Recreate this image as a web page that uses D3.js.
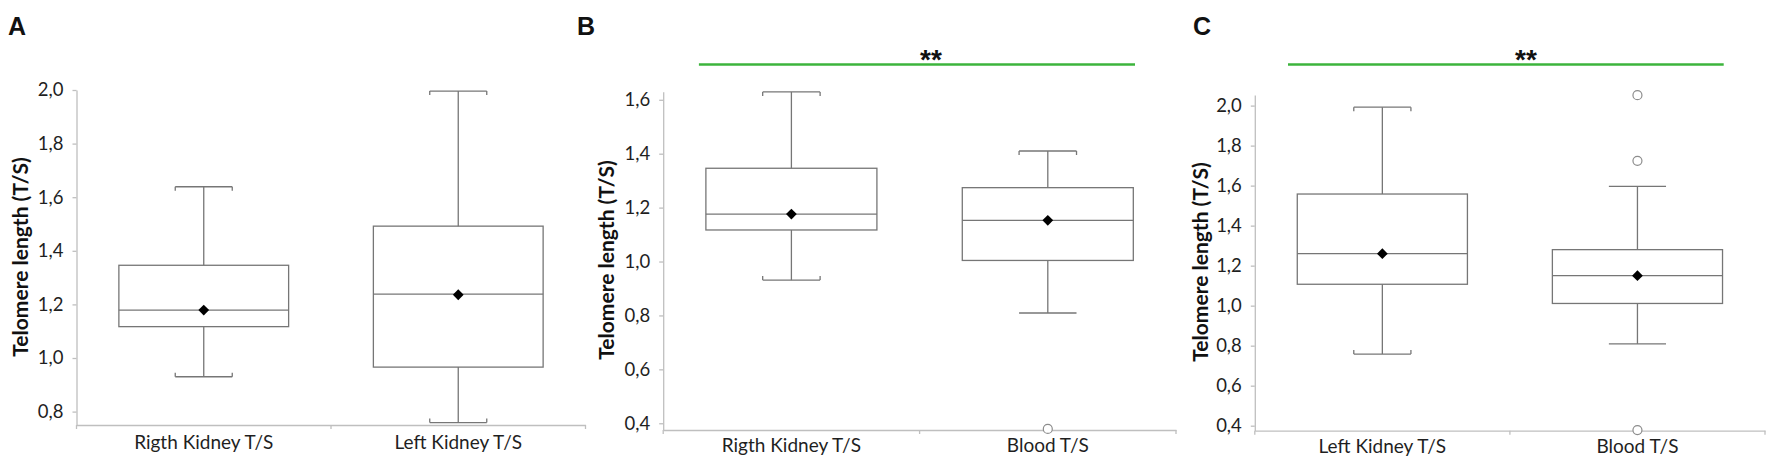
<!DOCTYPE html>
<html>
<head>
<meta charset="utf-8">
<script src="https://cdn.jsdelivr.net/npm/d3@7"></script>
<style>
  html, body { margin: 0; padding: 0; background: #fff; }
  svg { display: block; }
</style>
</head>
<body>
<svg id="chart" width="1772" height="464"></svg>
<script>
// ---------------- DATA ----------------
const panelLetters = ["A", "B", "C"];

const categoriesA = ["Rigth Kidney T/S", "Left Kidney T/S"];
const minA    = [0.930, 0.759];
const q1A     = [1.117, 0.966];
const medianA = [1.179, 1.238];
const q3A     = [1.346, 1.492];
const maxA    = [1.639, 1.996];
const meanA   = [1.179, 1.236];
const outliersA = [[], []];
const yTicksA = [0.8, 1.0, 1.2, 1.4, 1.6, 1.8, 2.0];
const yDomainA = [0.75, 2.0];

const categoriesB = ["Rigth Kidney T/S", "Blood T/S"];
const minB    = [0.931, 0.809];
const q1B     = [1.117, 1.004];
const medianB = [1.176, 1.153];
const q3B     = [1.346, 1.274];
const maxB    = [1.629, 1.410];
const meanB   = [1.176, 1.153];
const outliersB = [[], [0.379]];
const yTicksB = [0.4, 0.6, 0.8, 1.0, 1.2, 1.4, 1.6];
const yDomainB = [0.375, 1.63];

const categoriesC = ["Left Kidney T/S", "Blood T/S"];
const minC    = [0.758, 0.809];
const q1C     = [1.107, 1.011];
const medianC = [1.260, 1.150];
const q3C     = [1.558, 1.280];
const maxC    = [1.992, 1.596];
const meanC   = [1.260, 1.150];
const outliersC = [[], [2.052, 1.724, 0.378]];
const yTicksC = [0.4, 0.6, 0.8, 1.0, 1.2, 1.4, 1.6, 1.8, 2.0];
const yDomainC = [0.375, 2.053];

const significance = ["", "**", "**"];
const yTitle = "Telomere length (T/S)";

// ---------------- LAYOUT ----------------
const svg = d3.select("#chart");
const fmt = v => d3.format(".1f")(v).replace(".", ",");

const layouts = [
  { left: 76.5,  right: 585.5, top: 90,   bottom: 425,   letterX: 8,    titleX: 19,   titleY: 257, labelPad: 11 },
  { left: 663.2, right: 1176,  top: 91.7, bottom: 430,   letterX: 577,  titleX: 605,  titleY: 260, labelPad: 9,
    sigLine: [698.9, 1135], sigX: 931 },
  { left: 1254.8, right: 1765, top: 95,   bottom: 430.7, letterX: 1193, titleX: 1199, titleY: 262, labelPad: 9,
    sigLine: [1288, 1723.7], sigX: 1526 }
];

const panelsData = [
  { cats: categoriesA, min: minA, q1: q1A, med: medianA, q3: q3A, max: maxA, mean: meanA, out: outliersA, ticks: yTicksA, dom: yDomainA },
  { cats: categoriesB, min: minB, q1: q1B, med: medianB, q3: q3B, max: maxB, mean: meanB, out: outliersB, ticks: yTicksB, dom: yDomainB },
  { cats: categoriesC, min: minC, q1: q1C, med: medianC, q3: q3C, max: maxC, mean: meanC, out: outliersC, ticks: yTicksC, dom: yDomainC }
];

const AXIS_COLOR = "#bfbfbf";
const BOX_COLOR = "#767676";
const TEXT_COLOR = "#1f1f1f";
const FONT = "Lato, 'Open Sans', sans-serif";

panelsData.forEach((p, i) => {
  const L = layouts[i];
  const g = svg.append("g");

  const x = d3.scaleBand().domain(p.cats).range([L.left, L.right]).paddingInner(0).paddingOuter(0);
  const y = d3.scaleLinear().domain(p.dom).range([L.bottom, L.top]);
  const bw = x.bandwidth();
  const boxW = bw * 0.667;
  const capW = bw * 0.224;

  // Y axis
  const yAxis = d3.axisLeft(y).tickValues(p.ticks).tickFormat(fmt).tickSize(4).tickSizeOuter(0).tickPadding(9);
  const ya = g.append("g").attr("transform", `translate(${L.left},0)`).call(yAxis);
  ya.select(".domain").attr("stroke", AXIS_COLOR).attr("stroke-width", 1.3);
  ya.selectAll(".tick line").attr("stroke", AXIS_COLOR).attr("stroke-width", 1.3);
  ya.selectAll(".tick text").attr("fill", TEXT_COLOR).style("font-family", FONT).style("font-size", "18.5px");

  // X axis
  const xAxis = d3.axisBottom(x).tickSize(0).tickSizeOuter(0).tickPadding(L.labelPad);
  const xa = g.append("g").attr("transform", `translate(0,${L.bottom})`).call(xAxis);
  xa.select(".domain").attr("stroke", AXIS_COLOR).attr("stroke-width", 1.3);
  xa.selectAll(".tick text").attr("fill", TEXT_COLOR).style("font-family", FONT).style("font-size", "19px");
  // category boundary ticks
  const bounds = [x(p.cats[0]), x(p.cats[1]), x(p.cats[1]) + bw];
  g.selectAll(".btick").data(bounds).enter().append("line")
    .attr("x1", d => d).attr("x2", d => d)
    .attr("y1", L.bottom).attr("y2", L.bottom + 4)
    .attr("stroke", AXIS_COLOR).attr("stroke-width", 1.3);

  // Y title
  g.append("text")
    .attr("transform", `translate(${L.titleX},${L.titleY}) rotate(-90)`)
    .attr("text-anchor", "middle").attr("dominant-baseline", "central")
    .style("font-family", FONT).style("font-weight", "bold").style("font-size", "21px")
    .attr("fill", "#111").text(yTitle);

  // Panel letter
  g.append("text").attr("x", L.letterX).attr("y", 35)
    .style("font-family", "'Liberation Sans', Arial, sans-serif").style("font-weight", "bold").style("font-size", "25px")
    .attr("fill", "#111").text(panelLetters[i]);

  // Significance bar
  if (L.sigLine) {
    g.append("line").attr("x1", L.sigLine[0]).attr("x2", L.sigLine[1]).attr("y1", 64.5).attr("y2", 64.5)
      .attr("stroke", "#3cb43c").attr("stroke-width", 2.6);
    g.append("text").attr("x", L.sigX).attr("y", 69).attr("text-anchor", "middle")
      .style("font-family", "'Liberation Sans', Arial, sans-serif").style("font-weight", "bold").style("font-size", "28px")
      .attr("fill", "#111").text(significance[i]);
  }

  // Boxes
  p.cats.forEach((c, j) => {
    const cx = x(c) + bw / 2;
    const bg = g.append("g");
    const line = (x1, y1, x2, y2) => bg.append("line").attr("x1", x1).attr("y1", y1).attr("x2", x2).attr("y2", y2)
      .attr("stroke", BOX_COLOR).attr("stroke-width", 1.3);
    // whiskers
    line(cx, y(p.max[j]), cx, y(p.q3[j]));
    line(cx, y(p.q1[j]), cx, y(p.min[j]));
    // caps
    line(cx - capW / 2, y(p.max[j]), cx + capW / 2, y(p.max[j]));
    line(cx - capW / 2, y(p.min[j]), cx + capW / 2, y(p.min[j]));
    const hasUpper = p.out[j].some(v => v > p.max[j]);
    const hasLower = p.out[j].some(v => v < p.min[j]);
    if (!hasUpper) {
      line(cx - capW / 2, y(p.max[j]), cx - capW / 2, y(p.max[j]) + 4);
      line(cx + capW / 2, y(p.max[j]), cx + capW / 2, y(p.max[j]) + 4);
    }
    if (!hasLower) {
      line(cx - capW / 2, y(p.min[j]), cx - capW / 2, y(p.min[j]) - 4);
      line(cx + capW / 2, y(p.min[j]), cx + capW / 2, y(p.min[j]) - 4);
    }
    // box
    bg.append("rect").attr("x", cx - boxW / 2).attr("y", y(p.q3[j]))
      .attr("width", boxW).attr("height", y(p.q1[j]) - y(p.q3[j]))
      .attr("fill", "none").attr("stroke", BOX_COLOR).attr("stroke-width", 1.3);
    // median
    line(cx - boxW / 2, y(p.med[j]), cx + boxW / 2, y(p.med[j]));
    // mean diamond
    bg.append("path").attr("d", d3.symbol(d3.symbolSquare, 58)())
      .attr("transform", `translate(${cx},${y(p.mean[j])}) rotate(45)`).attr("fill", "#000");
    // outliers
    bg.selectAll(".out").data(p.out[j]).enter().append("circle")
      .attr("cx", cx).attr("cy", d => y(d)).attr("r", 4.5)
      .attr("fill", "#fff").attr("stroke", "#8c8c8c").attr("stroke-width", 1.2);
  });
});
</script>
</body>
</html>
